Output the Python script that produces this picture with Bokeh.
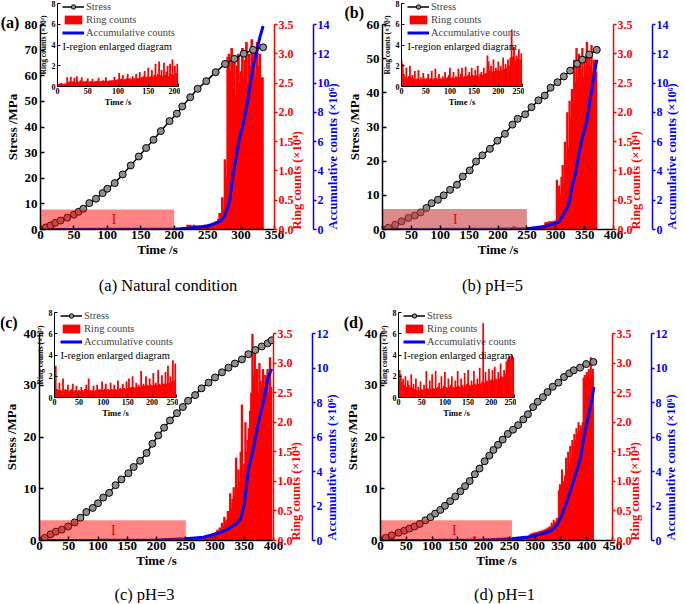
import math
import numpy as np
from bokeh.plotting import figure
from bokeh.models import (Range1d, LinearAxis, FixedTicker, PrintfTickFormatter,
                          Legend, LegendItem, GridBox, ColumnDataSource)
from bokeh.core.properties import value
from bokeh.embed import file_html
from bokeh.resources import INLINE

SERIF = "Liberation Serif"
RED = "#ff0000"
BLUE = "#0000ff"
MARKER_FILL = "#8f8f8f"

# ---------------- tick labels ----------------
ring_ticks = [0.0, 0.5, 1.0, 1.5, 2.0, 2.5, 3.0, 3.5]
inset_y_ticks = [0, 2, 4, 6, 8]
stress_ticks_a = [0, 10, 20, 30, 40, 50, 60, 70, 80]
stress_ticks_b = [0, 10, 20, 30, 40, 50, 60]
stress_ticks_cd = [0, 10, 20, 30, 40]
time_ticks_a = [0, 50, 100, 150, 200, 250, 300, 350]
time_ticks_bc = [0, 50, 100, 150, 200, 250, 300, 350, 400]
time_ticks_d = [0, 50, 100, 150, 200, 250, 300, 350, 400, 450]
acc_ticks_ab = [0, 2, 4, 6, 8, 10, 12, 14]
acc_ticks_cd = [0, 2, 4, 6, 8, 10, 12]
inset_time_ticks_a = [0, 50, 100, 150, 200]
inset_time_ticks_bcd = [0, 50, 100, 150, 200, 250]

# ---------------- (a) Natural condition ----------------
stress_t_a = [0, 8, 15, 22, 30, 40, 50, 57, 64, 73, 83, 93, 100, 111, 123, 135, 147, 158,
              169, 180, 193, 204, 212, 224, 235, 248, 262, 276, 290, 304, 318, 333]
stress_a = [0, 0.8, 1.6, 2.6, 3.5, 4.6, 5.8, 6.9, 8.1, 10.3, 12.0, 14.2, 15.9, 18.1, 21.5,
            25.0, 28.5, 31.8, 35.0, 38.4, 42.3, 45.2, 48.0, 51.6, 54.9, 57.9, 61.4, 64.6,
            66.6, 68.6, 70.1, 71.1]
acc_t_a = [0, 100, 200, 220, 240, 250, 260, 265, 270, 275, 280, 283, 288, 293, 297, 303,
           308, 313, 318, 323, 328, 333]
acc_a = [0, 0.01, 0.02, 0.08, 0.18, 0.26, 0.38, 0.48, 0.6, 0.9, 1.5, 2.0, 3.8, 5.0, 6.1,
         7.2, 8.3, 9.7, 11.1, 12.1, 13.1, 13.9]
# ring counts in region I (x10^2), one value every 2 s from 0 s
ring_I_a = [0.3, 0.25, 0.3, 0.35, 0.3, 0.25, 0.3, 0.3,
            0.9, 0.4, 0.5, 0.95, 0.45, 0.5, 0.85, 0.4,
            1.0, 0.5, 0.45, 0.6, 0.9, 0.5, 0.45, 0.5, 0.55, 0.8,
            0.45, 0.5, 0.5, 0.75, 0.45, 0.5, 0.5, 0.55, 0.85, 0.5,
            0.5, 0.55, 0.6, 0.5, 0.9, 0.55, 0.5, 0.6, 0.55, 0.6,
            0.6, 0.95, 0.65, 0.6, 0.7, 1.3, 0.7, 0.75, 1.1, 0.7,
            0.7, 0.8, 1.2, 0.75, 0.8, 0.7, 1.0, 0.8, 0.75, 1.2,
            0.8, 0.8, 1.4, 0.85, 0.9, 1.0, 1.5, 0.9, 0.95, 1.8,
            0.9, 1.0, 1.6, 0.95, 1.1, 2.2, 1.0, 1.2, 2.4, 1.1,
            1.6, 1.0, 2.3, 1.1, 1.4, 2.0, 1.0, 2.2, 1.2, 2.6,
            1.1, 2.0, 1.3, 2.2]
# ring counts after region I (x10^4), one value every 2 s from 200 s
ring_late_a = [0.01, 0.01, 0.02, 0.01, 0.02, 0.02, 0.01, 0.02, 0.02, 0.02,
               0.08, 0.07, 0.08, 0.06, 0.07, 0.08, 0.06, 0.07, 0.06, 0.07,
               0.06, 0.07, 0.05, 0.08, 0.06, 0.07, 0.09, 0.08, 0.1, 0.12,
               0.1, 0.14, 0.12, 0.18, 0.28, 0.2, 0.55, 0.35, 1.2, 0.9,
               2.95, 3.0, 2.7, 3.1, 2.4, 2.9, 2.3, 2.8, 3.0, 2.5,
               2.7, 3.1, 2.6, 2.9, 3.2, 2.5, 3.0, 2.8, 3.25, 2.7,
               3.1, 2.6, 3.2, 2.8, 3.0, 2.6, 2.6]

# ---------------- (b) pH=5 ----------------
stress_t_b = [0, 10, 22, 33, 45, 56, 66, 76, 85, 96, 106, 117, 129, 139, 151, 162, 173, 186,
              199, 212, 225, 234, 247, 258, 270, 281, 291, 303, 314, 325, 337, 346, 358, 371]
stress_b = [0, 0.5, 1.4, 2.4, 3.4, 4.1, 5.0, 6.3, 7.7, 8.7, 10.0, 11.6, 13.1, 15.5, 17.3,
            19.9, 21.7, 23.6, 26.0, 28.0, 30.7, 32.4, 33.7, 35.8, 37.8, 39.2, 41.5, 43.1,
            44.8, 46.5, 48.5, 49.7, 51.2, 52.6]
acc_t_b = [0, 100, 200, 250, 280, 305, 314, 322, 328, 334, 339, 345, 354, 359, 365, 371]
acc_b = [0, 0.01, 0.03, 0.05, 0.2, 0.5, 1.07, 1.64, 2.89, 3.8, 4.94, 6.08, 7.45, 8.8,
         10.2, 11.6]
ring_I_b = [2.6, 2.2, 1.2, 0.9, 1.8, 0.8, 1.0, 2.0, 0.9, 1.1,
            0.8, 1.5, 0.7, 0.8, 1.6, 0.7, 0.9, 0.7, 1.3, 0.8,
            0.7, 0.8, 1.2, 0.7, 0.8, 1.5, 0.7, 0.8, 1.7, 0.8,
            0.7, 1.2, 0.8, 0.7, 1.0, 0.8, 1.4, 0.8, 0.9, 1.1,
            1.8, 0.8, 0.9, 1.4, 0.8, 1.0, 0.9, 1.7, 0.9, 1.2,
            1.8, 0.9, 1.0, 1.9, 1.0, 1.1, 1.4, 1.0, 1.8, 1.1,
            1.0, 1.6, 1.1, 2.0, 1.0, 1.2, 1.4, 1.1, 1.8, 1.2,
            1.3, 3.0, 2.4, 1.5, 2.0, 1.4, 2.6, 1.5, 1.8, 1.6,
            2.4, 1.5, 2.0, 1.6, 2.8, 1.7, 2.2, 1.8, 2.6, 2.0,
            2.8, 5.5, 2.9, 3.8, 2.5, 3.0, 2.7, 3.6, 2.6, 3.2]
ring_late_b = [0.02, 0.02, 0.03, 0.02, 0.03, 0.03, 0.02, 0.03, 0.03, 0.04,
               0.03, 0.04, 0.04, 0.03, 0.05, 0.04, 0.12, 0.13, 0.12, 0.14,
               0.13, 0.14, 0.13, 0.15, 0.14, 0.16, 0.85, 0.5, 0.75, 0.6,
               0.9, 1.1, 0.8, 1.5, 1.2, 2.0, 1.4, 2.2, 1.9, 2.4,
               2.1, 2.9, 2.5, 3.1, 2.6, 3.0, 2.8, 2.7, 3.1, 2.6,
               2.9, 2.7, 3.2, 2.6, 3.0, 2.8, 3.15, 2.7, 2.9, 2.8,
               2.7]

# ---------------- (c) pH=3 ----------------
stress_t_c = [0, 9, 19, 28, 38, 49, 60, 70, 80, 91, 100, 109, 119, 130, 140, 152, 161, 172,
              183, 193, 203, 213, 223, 235, 245, 254, 266, 277, 289, 300, 312, 323, 334, 346,
              357, 369, 380, 390, 397]
stress_c = [0, 0.5, 1.2, 1.7, 2.1, 2.7, 3.5, 4.4, 5.5, 6.3, 7.2, 8.3, 9.2, 10.7, 11.8, 13.0,
            14.2, 15.4, 16.9, 18.7, 20.3, 21.8, 23.2, 24.6, 25.8, 27.0, 28.1, 29.4, 30.5,
            31.5, 32.5, 33.4, 34.2, 35.0, 36.0, 36.8, 37.5, 38.1, 38.7]
acc_t_c = [0, 100, 200, 250, 280, 303, 323, 336, 344, 350, 357, 366, 374, 383, 391, 397]
acc_c = [0, 0.01, 0.03, 0.1, 0.19, 0.39, 0.68, 0.97, 1.26, 2.1, 4.1, 5.4, 6.8, 8.1, 9.5, 9.95]
ring_I_c = [1.5, 3.0, 0.8, 0.7, 1.4, 0.7, 0.6, 1.8, 0.7, 0.8,
            0.7, 1.2, 0.6, 0.7, 0.8, 1.3, 0.6, 0.7, 1.1, 0.6,
            0.7, 0.6, 1.0, 0.7, 0.6, 0.8, 1.2, 0.7, 1.8, 0.7,
            0.6, 0.7, 1.1, 0.6, 0.7, 1.2, 0.7, 0.8, 0.7, 1.5,
            0.7, 0.8, 1.3, 0.7, 0.8, 0.7, 1.4, 0.8, 0.7, 1.2,
            0.8, 0.7, 1.6, 0.8, 0.9, 0.8, 1.3, 0.9, 0.8, 1.5,
            0.9, 1.8, 0.9, 1.0, 2.0, 1.0, 0.9, 1.4, 1.0, 1.2,
            1.0, 2.5, 1.1, 1.3, 1.1, 2.0, 1.2, 1.1, 1.8, 1.2,
            1.1, 2.3, 1.2, 1.4, 1.2, 2.6, 1.3, 1.2, 2.1, 1.3,
            1.3, 2.4, 1.3, 3.0, 1.4, 2.0, 1.5, 3.5, 1.6, 3.2]
ring_late_c = [0.02, 0.02, 0.03, 0.02, 0.03, 0.03, 0.03, 0.04, 0.03, 0.04,
               0.04, 0.05, 0.04, 0.06, 0.05, 0.07, 0.06, 0.08, 0.07, 0.09,
               0.08, 0.1, 0.09, 0.12, 0.1, 0.14, 0.12, 0.18, 0.15, 0.22,
               0.2, 0.3, 0.25, 0.4, 0.3, 0.35, 0.5, 0.45, 0.8, 0.55,
               0.7, 0.9, 0.75, 1.4, 0.9, 1.2, 1.0, 1.5, 2.3, 1.2,
               1.3, 2.0, 1.5, 1.7, 1.9, 2.2, 2.5, 3.5, 2.8, 3.2,
               2.6, 2.9, 2.5, 3.0, 2.7, 2.6, 2.9, 2.5, 2.8, 2.6,
               2.9, 2.5, 3.1, 2.6]

# ---------------- (d) pH=1 ----------------
stress_t_d = [0, 10, 22, 35, 46, 56, 66, 76, 87, 97, 106, 116, 125, 135, 145, 155, 164, 173,
              183, 192, 202, 211, 219, 228, 237, 247, 257, 267, 277, 286, 296, 305, 315, 324,
              334, 345, 356, 366, 375, 387, 399, 413]
stress_d = [0, 0.5, 1.0, 1.5, 1.9, 2.3, 2.7, 3.2, 3.9, 4.5, 5.2, 5.9, 6.7, 7.6, 8.5, 9.5,
            10.5, 11.5, 12.8, 13.9, 15.3, 16.4, 17.5, 18.5, 19.5, 20.6, 21.4, 22.3, 23.4,
            24.4, 25.8, 26.8, 27.7, 28.7, 29.7, 30.5, 31.6, 32.3, 32.9, 33.4, 34.1, 34.5]
acc_t_d = [0, 100, 200, 254, 286, 318, 331, 343, 353, 362, 375, 388, 397, 407, 414]
acc_d = [0, 0.01, 0.03, 0.1, 0.2, 0.42, 0.58, 0.93, 1.55, 2.3, 3.5, 4.8, 6.4, 7.7, 8.9]
ring_I_d = [2.4, 2.6, 2.2, 1.5, 1.8, 1.2, 2.0, 1.0, 1.6, 1.2,
            1.0, 2.2, 0.9, 1.3, 0.8, 1.8, 0.7, 1.0, 0.6, 1.5,
            0.8, 0.7, 1.2, 0.8, 2.5, 0.9, 0.8, 1.6, 0.8, 2.2,
            0.9, 0.8, 2.5, 0.9, 1.0, 1.4, 0.8, 2.0, 0.9, 1.1,
            2.4, 1.0, 0.9, 1.8, 1.0, 1.2, 2.0, 1.0, 0.9, 1.6,
            1.0, 2.5, 1.1, 1.0, 1.8, 1.2, 1.0, 2.3, 1.1, 1.3,
            2.6, 1.2, 1.1, 1.6, 1.2, 2.5, 1.3, 1.2, 1.8, 1.3,
            2.8, 1.3, 1.5, 7.0, 1.4, 2.4, 1.6, 1.5, 2.7, 1.6,
            1.7, 2.6, 1.6, 2.9, 1.8, 1.7, 2.4, 1.8, 3.2, 2.0,
            1.9, 2.6, 2.2, 3.4, 3.6, 3.8, 3.9, 3.7, 4.0, 3.8]
ring_late_d = [0.02, 0.02, 0.03, 0.02, 0.03, 0.03, 0.03, 0.04, 0.03, 0.04,
               0.04, 0.03, 0.05, 0.04, 0.05, 0.05, 0.06, 0.05, 0.06, 0.07,
               0.1, 0.12, 0.1, 0.13, 0.12, 0.14, 0.13, 0.15, 0.14, 0.16,
               0.15, 0.17, 0.16, 0.18, 0.18, 0.2, 0.19, 0.22, 0.21, 0.24,
               0.23, 0.3, 0.26, 0.35, 0.3, 0.32, 0.38, 0.35, 0.85, 0.95,
               0.9, 1.2, 0.95, 1.0, 1.1, 1.4, 1.2, 1.5, 1.3, 1.6,
               1.4, 1.7, 1.6, 1.8, 1.7, 1.9, 1.8, 2.0, 1.85, 1.95,
               1.9, 2.0, 2.75, 2.8, 2.75, 2.85, 2.8, 2.9, 2.75, 3.1,
               2.8, 2.9]

# ---------------- layout (page pixels) ----------------
PANELS = [
    dict(tag="(a)", caption="(a) Natural condition", fw=234, fh=205, mbl=34,
         margin=(0, 0, 0, 1), xmax=350, smax=80, amax=14,
         sticks=stress_ticks_a, tticks=time_ticks_a, aticks=acc_ticks_ab,
         st=stress_t_a, s=stress_a, acc_t=acc_t_a, acc=acc_a,
         ring_I=ring_I_a, step_I=2.0, ring_late=ring_late_a, late_start=200, late_step=2.0,
         I_end=200, I_top=7.8, I_x=110, I_color="#ff0000", I_alpha=0.48,
         tag_xy=(9.5, 22), cap_xy=(167.5, 285), leg_xy=(62, 0),
         inset=dict(fw=121, fh=83, margin=(0, 0, 0, 33), xmax=200, tticks=inset_time_ticks_a)),
    dict(tag="(b)", caption="(b) pH=5", fw=231, fh=205, mbl=34,
         margin=(0, 0, 0, 343), xmax=400, smax=60, amax=14,
         sticks=stress_ticks_b, tticks=time_ticks_bc, aticks=acc_ticks_ab,
         st=stress_t_b, s=stress_b, acc_t=acc_t_b, acc=acc_b,
         ring_I=ring_I_b, step_I=2.5, ring_late=ring_late_b, late_start=250, late_step=2.0,
         I_end=250, I_top=6.0, I_x=126, I_color="#c83c3c", I_alpha=0.6,
         tag_xy=(353.7, 12), cap_xy=(492, 285), leg_xy=(407, 0),
         inset=dict(fw=121, fh=83, margin=(0, 0, 0, 377), xmax=250, tticks=inset_time_ticks_bcd)),
    dict(tag="(c)", caption="(c) pH=3", fw=234, fh=207, mbl=33,
         margin=(309, 0, 0, 0), xmax=400, smax=40, amax=12,
         sticks=stress_ticks_cd, tticks=time_ticks_bc, aticks=acc_ticks_cd,
         st=stress_t_c, s=stress_c, acc_t=acc_t_c, acc=acc_c,
         ring_I=ring_I_c, step_I=2.5, ring_late=ring_late_c, late_start=250, late_step=2.0,
         I_end=250, I_top=3.9, I_x=126, I_color="#ff0000", I_alpha=0.48,
         tag_xy=(8.3, 321.7), cap_xy=(144, 594), leg_xy=(60, 309.2),
         inset=dict(fw=122, fh=85, margin=(309, 0, 0, 30), xmax=250, tticks=inset_time_ticks_bcd)),
    dict(tag="(d)", caption="(d) pH=1", fw=232, fh=207, mbl=34,
         margin=(309, 0, 0, 341), xmax=450, smax=40, amax=12,
         sticks=stress_ticks_cd, tticks=time_ticks_d, aticks=acc_ticks_cd,
         st=stress_t_d, s=stress_d, acc_t=acc_t_d, acc=acc_d,
         ring_I=ring_I_d, step_I=2.5, ring_late=ring_late_d, late_start=250, late_step=2.0,
         I_end=255, I_top=3.9, I_x=143, I_color="#ff0000", I_alpha=0.48,
         tag_xy=(353, 321.7), cap_xy=(504, 594), leg_xy=(403, 309.2),
         inset=dict(fw=116, fh=85, margin=(309, 0, 0, 374), xmax=250, tticks=inset_time_ticks_bcd)),
]

OW, OH = 684, 603          # overlay (whole page area) size in px
ROW = 13                   # legend row pitch in px
BAR_OVERLAP_MAIN = 2.0     # bars drawn wider than their time step (solid look)
BAR_OVERLAP_INSET = 1.5


def no_align(fig):
    try:
        fig.frame_align = False
    except Exception:
        pass


def style_axis(ax, color="black", tick_size="13px", label_size="13px", tick_in=0, tick_out=0,
               lw=1.5, lstand=3, astand=2):
    ax.axis_line_color = color
    ax.axis_line_width = lw
    ax.major_tick_line_color = color
    ax.major_tick_line_width = lw
    ax.major_tick_in = tick_in
    ax.major_tick_out = tick_out
    ax.minor_tick_line_color = None
    ax.major_label_text_color = color
    ax.major_label_text_font = SERIF
    ax.major_label_text_font_style = "bold"
    ax.major_label_text_font_size = tick_size
    ax.major_label_standoff = lstand
    ax.axis_label_text_color = color
    ax.axis_label_text_font = SERIF
    ax.axis_label_text_font_style = "bold"
    ax.axis_label_text_font_size = label_size
    ax.axis_label_standoff = astand


def upward_label(ax):
    try:
        ax.axis_label_orientation = math.pi / 2
    except Exception:
        pass
    try:
        ax.axis_label_align = "start"
    except Exception:
        pass


def main_panel(P):
    p = figure(frame_width=P["fw"], frame_height=P["fh"],
               x_range=Range1d(0, P["xmax"]), y_range=Range1d(0, P["smax"]),
               x_axis_location=None, y_axis_location=None,
               output_backend="svg", toolbar_location=None,
               min_border_left=P["mbl"], min_border_top=24, min_border_bottom=32,
               min_border_right=0, outline_line_color=None,
               background_fill_alpha=0, border_fill_alpha=0)
    no_align(p)
    p.grid.visible = False
    p.margin = P["margin"]
    p.extra_y_ranges = {"ring": Range1d(0, 3.5), "acc": Range1d(0, P["amax"])}

    ax_s = LinearAxis(axis_label="Stress /MPa", ticker=FixedTicker(ticks=P["sticks"]))
    style_axis(ax_s, tick_in=4)
    p.add_layout(ax_s, "left")
    ax_t = LinearAxis(axis_label="Time /s", ticker=FixedTicker(ticks=P["tticks"]))
    style_axis(ax_t, tick_in=4, lstand=1, astand=0)
    p.add_layout(ax_t, "below")
    ax_r = LinearAxis(y_range_name="ring", axis_label="Ring counts (×10⁴)",
                      ticker=FixedTicker(ticks=ring_ticks),
                      formatter=PrintfTickFormatter(format="%.1f"))
    style_axis(ax_r, color=RED, tick_size="12px", label_size="12.5px", tick_out=3,
               lstand=1, astand=0)
    upward_label(ax_r)
    p.add_layout(ax_r, "right")
    ax_a = LinearAxis(y_range_name="acc", axis_label="Accumulative counts (×10⁶)",
                      ticker=FixedTicker(ticks=P["aticks"]))
    style_axis(ax_a, color=BLUE, tick_size="12px", label_size="12.5px", tick_out=3,
               lstand=1, astand=0)
    upward_label(ax_a)
    p.add_layout(ax_a, "right")

    early = np.asarray(P["ring_I"], dtype=float) / 100.0      # x10^2 -> x10^4
    t_early = P["step_I"] * np.arange(len(early))
    late = np.asarray(P["ring_late"], dtype=float)
    t_late = P["late_start"] + P["late_step"] * np.arange(len(late))
    src = ColumnDataSource(dict(
        t=np.concatenate([t_early, t_late]),
        v=np.concatenate([early, late]),
        w=BAR_OVERLAP_MAIN * np.concatenate([np.full(len(early), P["step_I"]),
                                             np.full(len(late), P["late_step"])])))
    p.vbar(x="t", top="v", width="w", source=src, y_range_name="ring",
           fill_color=RED, line_color=None)
    p.line(P["acc_t"], P["acc"], y_range_name="acc", line_color=BLUE, line_width=3)
    p.line(P["st"], P["s"], line_color="black", line_width=1.5)
    p.scatter(P["st"], P["s"], marker="circle", size=7, fill_color=MARKER_FILL,
              line_color="black", line_width=1)
    p.quad(left=[0], right=[P["I_end"]], bottom=[0], top=[P["I_top"]],
           fill_color=P["I_color"], fill_alpha=P["I_alpha"], line_color=None)
    p.text(x=[P["I_x"]], y=[P["I_top"] / 2], text=["I"], text_color="#ee0000",
           text_font=value(SERIF), text_font_size="14px", text_align="center",
           text_baseline="middle")
    return p


def inset_panel(P):
    I = P["inset"]
    q = figure(frame_width=I["fw"], frame_height=I["fh"],
               x_range=Range1d(0, I["xmax"]), y_range=Range1d(0, 8),
               x_axis_location=None, y_axis_location=None,
               output_backend="svg", toolbar_location=None,
               min_border_left=24, min_border_top=3, min_border_bottom=24, min_border_right=2,
               outline_line_color=None, background_fill_alpha=0, border_fill_alpha=0)
    no_align(q)
    q.grid.visible = False
    q.margin = I["margin"]
    ax_y = LinearAxis(axis_label="Ring counts (×10²)", ticker=FixedTicker(ticks=inset_y_ticks))
    style_axis(ax_y, tick_size="8px", label_size="7.5px", tick_in=3, lw=1, lstand=2, astand=1)
    q.add_layout(ax_y, "left")
    ax_x = LinearAxis(axis_label="Time /s", ticker=FixedTicker(ticks=I["tticks"]))
    style_axis(ax_x, tick_size="8px", label_size="8.5px", tick_in=3, lw=1, lstand=1, astand=0)
    q.add_layout(ax_x, "below")
    vals = np.asarray(P["ring_I"], dtype=float)
    t = P["step_I"] * np.arange(len(vals))
    q.vbar(x=t, top=vals, width=BAR_OVERLAP_INSET * P["step_I"], fill_color=RED,
           line_color=None)
    return q


def overlay():
    ov = figure(frame_width=OW, frame_height=OH,
                x_range=Range1d(0, OW), y_range=Range1d(OH, 0),
                x_axis_location=None, y_axis_location=None,
                output_backend="svg", toolbar_location=None, min_border=0,
                outline_line_color=None, background_fill_alpha=0, border_fill_alpha=0)
    no_align(ov)
    ov.grid.visible = False
    # legend swatches: same styles as the plotted series (no visible data of their own)
    nan = [np.nan]
    d_sl = ov.line(nan, nan, line_color="black", line_width=1.5)
    d_ss = ov.scatter(nan, nan, marker="circle", size=7, fill_color=MARKER_FILL,
                      line_color="black", line_width=1)
    d_rb = ov.vbar(x=nan, top=nan, width=1, fill_color=RED, line_color=None)
    d_bl = ov.line(nan, nan, line_color=BLUE, line_width=3)
    for P in PANELS:
        lx, ly = P["leg_xy"]
        leg = Legend(items=[LegendItem(label="Stress", renderers=[d_sl, d_ss]),
                            LegendItem(label="Ring counts", renderers=[d_rb]),
                            LegendItem(label="Accumulative counts", renderers=[d_bl])],
                     location=(lx, OH - ly - 3 * ROW), orientation="vertical",
                     background_fill_alpha=0, border_line_alpha=0, padding=0, margin=0,
                     spacing=0, glyph_width=22, glyph_height=ROW - 2, label_height=ROW,
                     label_standoff=2, label_text_font=SERIF,
                     label_text_font_size="10.5px")
        ov.add_layout(leg)
        ov.text(x=[lx], y=[ly + 3.5 * ROW], text=["I-region enlarged diagram"],
                text_font=value(SERIF), text_font_size="10.5px", text_color="black",
                text_align="left", text_baseline="middle")
        ov.text(x=[P["tag_xy"][0]], y=[P["tag_xy"][1]], text=[P["tag"]],
                text_font=value(SERIF), text_font_style="bold", text_font_size="16px",
                text_color="black", text_align="center", text_baseline="middle")
        ov.text(x=[P["cap_xy"][0]], y=[P["cap_xy"][1]], text=[P["caption"]],
                text_font=value(SERIF), text_font_size="16.5px", text_color="black",
                text_align="center", text_baseline="middle")
    return ov


mains = [main_panel(P) for P in PANELS]
insets = [inset_panel(P) for P in PANELS]
ov = overlay()
children = [(f, 0, 0) for f in mains + insets + [ov]]
layout = GridBox(children=children)

open("out.html", "w").write(file_html(layout, INLINE))
